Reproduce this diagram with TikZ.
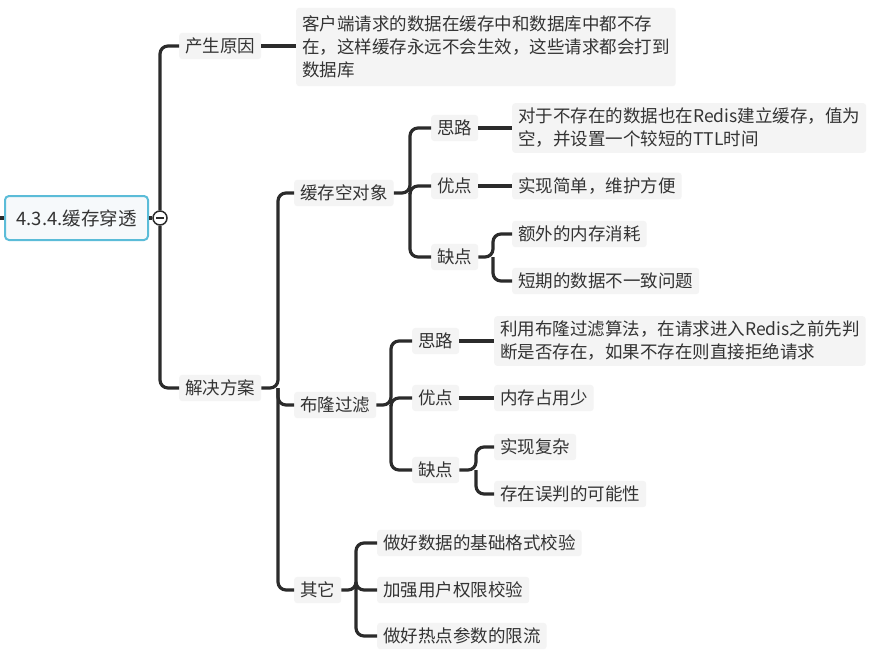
\documentclass[tikz,border=0pt]{standalone}
\usepackage{fontspec}
\setmainfont{Noto Sans CJK SC}
\usetikzlibrary{calc}
\definecolor{ink}{HTML}{333333}
\definecolor{lineink}{HTML}{2B2B2B}
\definecolor{nodebg}{HTML}{F4F4F4}
\definecolor{rootborder}{HTML}{5BBCD8}
\definecolor{rootfill}{HTML}{F6F9FB}
\tikzset{
  topic/.style={anchor=west, fill=nodebg, rounded corners=3pt, inner xsep=6pt, inner ysep=5pt,
    text=ink, font=\fontsize{17.5}{23}\selectfont, align=left},
  conn/.style={draw=lineink, line width=3.2pt, rounded corners=8pt},
  rootbox/.style={draw=rootborder, fill=rootfill, line width=2pt, rounded corners=4pt,
    minimum width=143pt, minimum height=44pt, text=ink, font=\fontsize{18.5}{23}\selectfont},
}
\begin{document}
\begin{tikzpicture}[x=1pt,y=-1pt]
\useasboundingbox (0,0) rectangle (880,654);
\fill[white] (0,0) rectangle (880,654);

% root
\node[rootbox] (root) at (76.5,218) {4.3.4.缓存穿透};
\coordinate (stub) at (0,218);
\draw[conn] (stub) -- (root.west);
\node[circle, draw=lineink, fill=white, line width=1.5pt, minimum size=14pt, inner sep=0pt] (circ) at (160,218) {};
\draw[lineink, line width=1.5pt] ($(circ.center)+(-4,0)$) -- ($(circ.center)+(4,0)$);
\draw[conn] (root.east) -- (circ.west);

% level 1
\node[topic] (cause) at (179,46) {产生原因};
\node[topic] (sol) at (179,388) {解决方案};
\draw[conn] (circ.north) |- (cause.west);
\draw[conn] (circ.south) |- (sol.west);

\node[topic, inner ysep=8pt] (causetxt) at (296,47) {客户端请求的数据在缓存中和数据库中都不存\\在，这样缓存永远不会生效，这些请求都会打到\\数据库};
\draw[conn] (cause.east) -- (causetxt.west |- cause.east);

% level 2
\node[topic] (c1) at (294,193) {缓存空对象};
\node[topic] (c2) at (294,405) {布隆过滤};
\node[topic] (c3) at (294,590) {其它};
\coordinate (v2) at (278,388);
\draw[conn] (sol.east) -- (v2) |- (c1.west);
\draw[conn] (v2) |- (c2.west);
\draw[conn] (v2) |- (c3.west);

% 缓存空对象 children
\node[topic] (s1) at (431,128) {思路};
\node[topic] (y1) at (431,186) {优点};
\node[topic] (q1) at (431,257) {缺点};
\coordinate (v3) at (410,193);
\draw[conn] (c1.east) -- (v3) |- (s1.west);
\draw[conn] (v3) |- (y1.west);
\draw[conn] (v3) |- (q1.west);

\node[topic] (s1t) at (512,128) {对于不存在的数据也在Redis建立缓存，值为\\空，并设置一个较短的TTL时间};
\node[topic] (y1t) at (512,186) {实现简单，维护方便};
\draw[conn] (s1.east) -- (s1t.west |- s1.east);
\draw[conn] (y1.east) -- (y1t.west);

\node[topic] (q1a) at (512,234) {额外的内存消耗};
\node[topic] (q1b) at (512,281) {短期的数据不一致问题};
\coordinate (v4) at (493,257);
\draw[conn] (q1.east) -- (v4) |- (q1a.west);
\draw[conn] (v4) |- (q1b.west);

% 布隆过滤 children
\node[topic] (s2) at (412,341) {思路};
\node[topic] (y2) at (412,398) {优点};
\node[topic] (q2) at (412,470) {缺点};
\coordinate (v5) at (391,405);
\draw[conn] (c2.east) -- (v5) |- (s2.west);
\draw[conn] (v5) |- (y2.west);
\draw[conn] (v5) |- (q2.west);

\node[topic] (s2t) at (494,341) {利用布隆过滤算法，在请求进入Redis之前先判\\断是否存在，如果不存在则直接拒绝请求};
\node[topic] (y2t) at (494,398) {内存占用少};
\draw[conn] (s2.east) -- (s2t.west |- s2.east);
\draw[conn] (y2.east) -- (y2t.west);

\node[topic] (q2a) at (494,447) {实现复杂};
\node[topic] (q2b) at (494,494) {存在误判的可能性};
\coordinate (v6) at (476,470);
\draw[conn] (q2.east) -- (v6) |- (q2a.west);
\draw[conn] (v6) |- (q2b.west);

% 其它 children
\node[topic] (o1) at (377,543) {做好数据的基础格式校验};
\node[topic] (o2) at (377,590) {加强用户权限校验};
\node[topic] (o3) at (377,636) {做好热点参数的限流};
\coordinate (v7) at (356,590);
\draw[conn] (c3.east) -- (v7) |- (o1.west);
\draw[conn] (v7) |- (o2.west);
\draw[conn] (v7) |- (o3.west);
\end{tikzpicture}
\end{document}
